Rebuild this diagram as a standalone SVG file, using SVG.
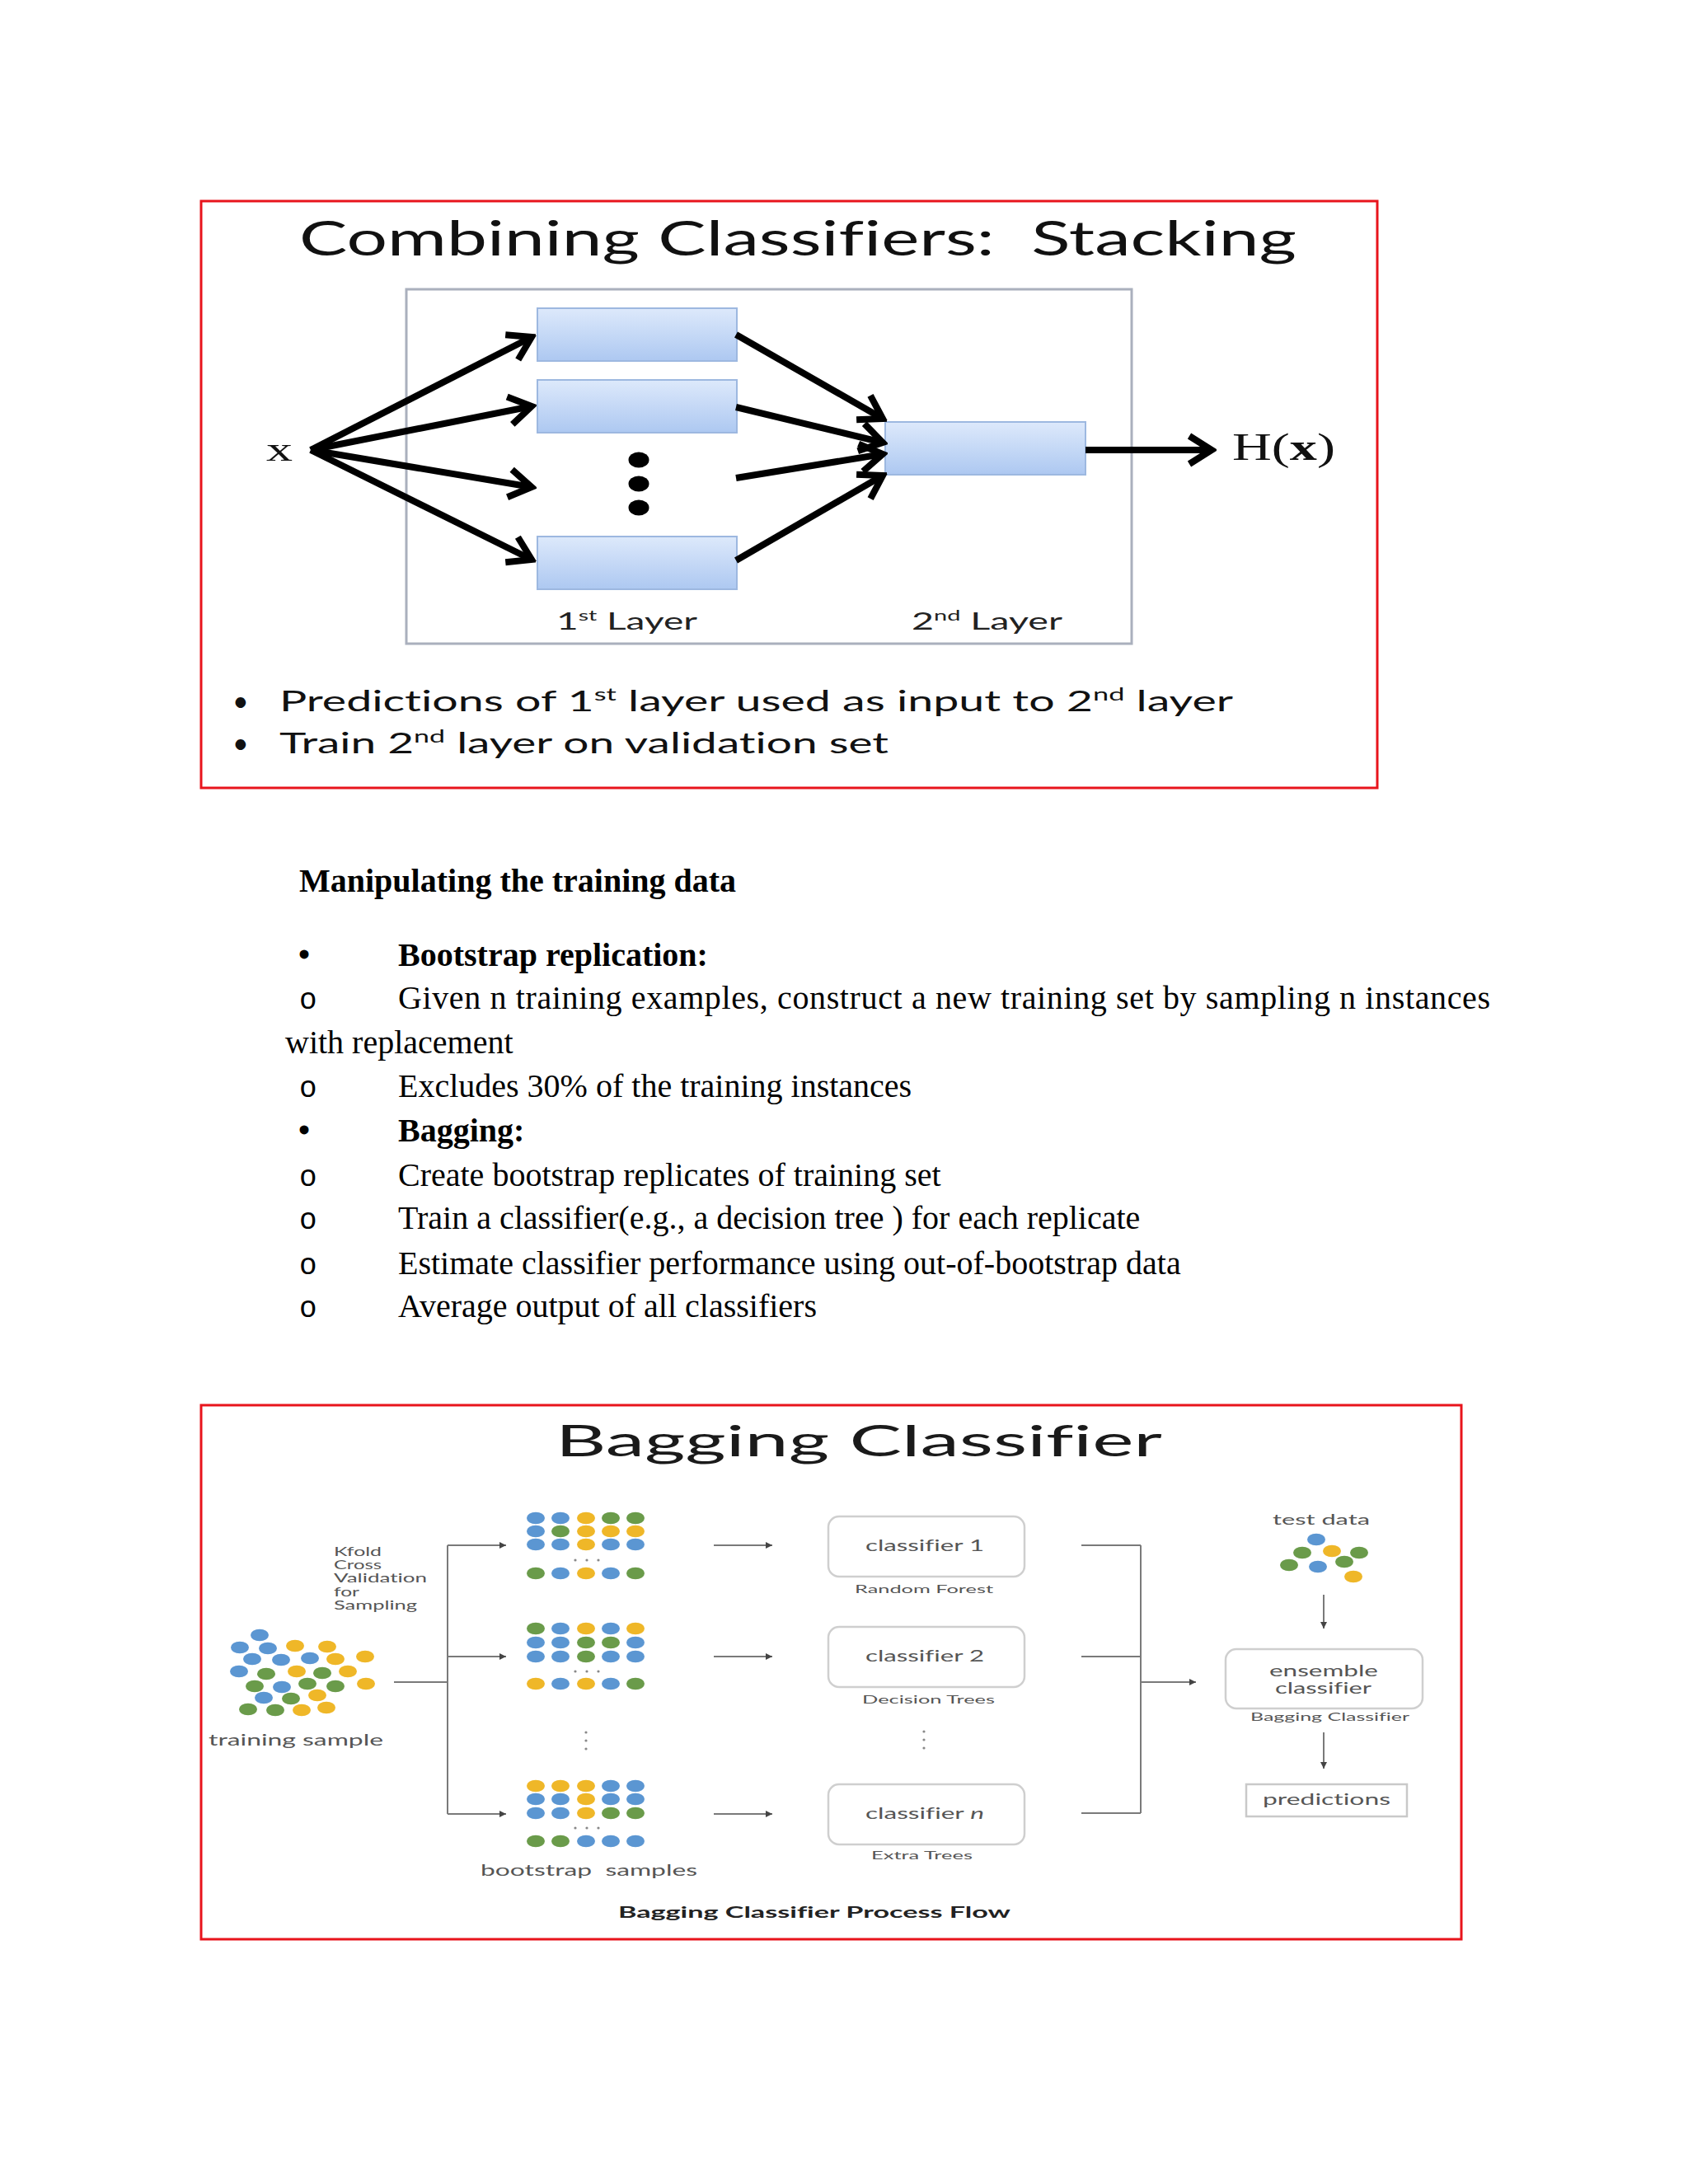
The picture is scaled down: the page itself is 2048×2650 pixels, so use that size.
<svg xmlns="http://www.w3.org/2000/svg" width="2048" height="2650" viewBox="0 0 2048 2650">
<defs>
<style>
text{font-variant-ligatures:none}
.frame{fill:none;stroke:#e8141c;stroke-width:3}
.sans{font-family:Lato,"Liberation Sans",sans-serif}
.serif{font-family:"Liberation Serif","Times New Roman",serif}
.mono{font-family:"Liberation Mono",monospace}
.st-line{fill:none;stroke:#000;stroke-width:8}
.l1{fill:url(#boxGrad);stroke:#9db8e0;stroke-width:2}
.bg-line{fill:none;stroke:#7a7a7a;stroke-width:2}
.bg-box{fill:#fff;stroke:#cfcfcf;stroke-width:2.5}
.g{fill:#555}
.db{fill:#5b96d2}.dy{fill:#efb728}.dg{fill:#6a9b4a}
.tiny{fill:#888}
.body{font-size:40px;fill:#000}
</style>
<linearGradient id="boxGrad" x1="0" y1="0" x2="0" y2="1">
<stop offset="0" stop-color="#dde9fb"/>
<stop offset="1" stop-color="#adc8f1"/>
</linearGradient>
<marker id="open" viewBox="-34 -22 40 44" refX="0" refY="0" markerWidth="40" markerHeight="44" markerUnits="userSpaceOnUse" orient="auto">
<path d="M-27,-17 L0,0 L-27,17" fill="none" stroke="#000" stroke-width="8"/>
</marker>
<marker id="tri" viewBox="0 0 10 10" refX="10" refY="5" markerWidth="9" markerHeight="8" markerUnits="userSpaceOnUse" orient="auto">
<path d="M0,0 L10,5 L0,10 Z" fill="#444"/>
</marker>
<ellipse id="dot" cx="0" cy="0" rx="11" ry="7.3"/>
</defs>
<rect width="2048" height="2650" fill="#fff"/>

<!-- ================= STACKING ================= -->
<g id="stacking">
<rect class="frame" x="244" y="244" width="1427" height="712"/>
<text class="sans" x="363" y="310" font-size="59" fill="#111" textLength="1210" lengthAdjust="spacingAndGlyphs" xml:space="preserve">Combining Classifiers:  Stacking</text>
<rect id="layer-frame" x="493" y="351" width="880" height="430" fill="none" stroke="#aab0bd" stroke-width="3"/>

<g id="input-x"><text class="serif" x="323" y="559" font-size="40" fill="#111" textLength="32" lengthAdjust="spacingAndGlyphs">x</text></g>
<g id="l1-box1"><rect class="l1" x="652" y="374" width="242" height="64"/></g>
<g id="l1-box2"><rect class="l1" x="652" y="461" width="242" height="64"/></g>
<g id="l1-dots"><ellipse cx="775" cy="558" rx="12.5" ry="9.5" fill="#000"/><ellipse cx="775" cy="587" rx="12.5" ry="9.5" fill="#000"/><ellipse cx="775" cy="616" rx="12.5" ry="9.5" fill="#000"/></g>
<g id="l1-box4"><rect class="l1" x="652" y="651" width="242" height="64"/></g>
<g id="l2-box"><rect class="l1" x="1074" y="512" width="243" height="64"/></g>
<g id="output-hx"><text class="serif" x="1495" y="558" font-size="46" fill="#111" textLength="125" lengthAdjust="spacingAndGlyphs">H(<tspan font-weight="bold">x</tspan>)</text></g>

<g id="stacking-connectors">
<line class="st-line" x1="377" y1="546" x2="645" y2="409" marker-end="url(#open)"/>
<line class="st-line" x1="377" y1="546" x2="645" y2="493" marker-end="url(#open)"/>
<line class="st-line" x1="377" y1="546" x2="645" y2="591" marker-end="url(#open)"/>
<line class="st-line" x1="377" y1="546" x2="645" y2="679" marker-end="url(#open)"/>
<line class="st-line" x1="893" y1="406" x2="1071" y2="508" marker-end="url(#open)"/>
<line class="st-line" x1="893" y1="494" x2="1071" y2="537" marker-end="url(#open)"/>
<line class="st-line" x1="893" y1="580" x2="1071" y2="551" marker-end="url(#open)"/>
<line class="st-line" x1="893" y1="680" x2="1071" y2="577" marker-end="url(#open)"/>
<line class="st-line" x1="1317" y1="546" x2="1470" y2="546" marker-end="url(#open)"/>
</g>

<text class="sans" x="675" y="764" font-size="29" fill="#222" textLength="171" lengthAdjust="spacingAndGlyphs">1<tspan font-size="18" dy="-11">st</tspan><tspan dy="11"> Layer</tspan></text>
<text class="sans" x="1106" y="764" font-size="29" fill="#222" textLength="183" lengthAdjust="spacingAndGlyphs">2<tspan font-size="18" dy="-11">nd</tspan><tspan dy="11"> Layer</tspan></text>

<text class="sans" x="282" y="863" font-size="34" fill="#111">•</text>
<text class="sans" x="339" y="863" font-size="34" fill="#111" textLength="1157" lengthAdjust="spacingAndGlyphs">Predictions of 1<tspan font-size="21" dy="-13">st</tspan><tspan dy="13"> layer used as input to 2</tspan><tspan font-size="21" dy="-13">nd</tspan><tspan dy="13"> layer</tspan></text>
<text class="sans" x="282" y="914" font-size="34" fill="#111">•</text>
<text class="sans" x="339" y="914" font-size="34" fill="#111" textLength="739" lengthAdjust="spacingAndGlyphs">Train 2<tspan font-size="21" dy="-13">nd</tspan><tspan dy="13"> layer on validation set</tspan></text>
</g>

<!-- ================= TEXT SECTION ================= -->
<g id="text-section" class="serif body">
<text x="363" y="1082" font-weight="bold">Manipulating the training data</text>
<text x="362" y="1172" font-weight="bold">•</text>
<text x="483" y="1172" font-weight="bold">Bootstrap replication:</text>
<text class="mono" x="363" y="1224" font-size="36">o</text>
<text x="483" y="1224" textLength="1325" lengthAdjust="spacing">Given n training examples, construct a new training set by sampling n instances</text>
<text x="346" y="1278">with replacement</text>
<text class="mono" x="363" y="1331" font-size="36">o</text>
<text x="483" y="1331">Excludes 30% of the training instances</text>
<text x="362" y="1385" font-weight="bold">•</text>
<text x="483" y="1385" font-weight="bold">Bagging:</text>
<text class="mono" x="363" y="1439" font-size="36">o</text>
<text x="483" y="1439">Create bootstrap replicates of training set</text>
<text class="mono" x="363" y="1491" font-size="36">o</text>
<text x="483" y="1491">Train a classifier(e.g., a decision tree ) for each replicate</text>
<text class="mono" x="363" y="1546" font-size="36">o</text>
<text x="483" y="1546">Estimate classifier performance using out-of-bootstrap data</text>
<text class="mono" x="363" y="1598" font-size="36">o</text>
<text x="483" y="1598">Average output of all classifiers</text>
</g>

<!-- ================= BAGGING ================= -->
<g id="bagging">
<rect class="frame" x="244" y="1705" width="1529" height="648"/>
<text class="sans" x="674" y="1767" font-size="53" fill="#1a1a1a" textLength="736" lengthAdjust="spacingAndGlyphs">Bagging Classifier</text>

<g id="kfold-label" class="sans g" font-size="15">
<text x="405" y="1888" textLength="58" lengthAdjust="spacingAndGlyphs">Kfold</text>
<text x="405" y="1904" textLength="58" lengthAdjust="spacingAndGlyphs">Cross</text>
<text x="405" y="1920" textLength="113" lengthAdjust="spacingAndGlyphs">Validation</text>
<text x="405" y="1937" textLength="31" lengthAdjust="spacingAndGlyphs">for</text>
<text x="405" y="1953" textLength="101" lengthAdjust="spacingAndGlyphs">Sampling</text>
</g>

<g id="training-sample">
<use href="#dot" x="315" y="1984" class="db"/>
<use href="#dot" x="291" y="1999" class="db"/><use href="#dot" x="325" y="2000" class="db"/><use href="#dot" x="358" y="1997" class="dy"/><use href="#dot" x="397" y="1998" class="dy"/>
<use href="#dot" x="306" y="2013" class="db"/><use href="#dot" x="341" y="2014" class="db"/><use href="#dot" x="376" y="2012" class="db"/><use href="#dot" x="407" y="2013" class="dy"/><use href="#dot" x="443" y="2010" class="dy"/>
<use href="#dot" x="290" y="2028" class="db"/><use href="#dot" x="323" y="2031" class="dg"/><use href="#dot" x="360" y="2028" class="dy"/><use href="#dot" x="391" y="2030" class="dg"/><use href="#dot" x="422" y="2028" class="dy"/>
<use href="#dot" x="309" y="2046" class="dg"/><use href="#dot" x="342" y="2047" class="db"/><use href="#dot" x="373" y="2043" class="dg"/><use href="#dot" x="407" y="2046" class="dg"/><use href="#dot" x="444" y="2043" class="dy"/>
<use href="#dot" x="320" y="2060" class="db"/><use href="#dot" x="353" y="2061" class="dg"/><use href="#dot" x="385" y="2057" class="dy"/>
<use href="#dot" x="301" y="2074" class="dg"/><use href="#dot" x="334" y="2075" class="dg"/><use href="#dot" x="366" y="2075" class="dy"/><use href="#dot" x="396" y="2072" class="dy"/>
<text class="sans g" x="253" y="2118" font-size="19" textLength="212" lengthAdjust="spacingAndGlyphs">training sample</text>
</g>

<g id="bootstrap-1">
<use href="#dot" x="650" y="1842" class="db"/><use href="#dot" x="680" y="1842" class="db"/><use href="#dot" x="711" y="1842" class="dy"/><use href="#dot" x="741" y="1842" class="dg"/><use href="#dot" x="771" y="1842" class="dg"/>
<use href="#dot" x="650" y="1858" class="db"/><use href="#dot" x="680" y="1858" class="dg"/><use href="#dot" x="711" y="1858" class="dy"/><use href="#dot" x="741" y="1858" class="dy"/><use href="#dot" x="771" y="1858" class="dy"/>
<use href="#dot" x="650" y="1874" class="db"/><use href="#dot" x="680" y="1874" class="db"/><use href="#dot" x="711" y="1874" class="dy"/><use href="#dot" x="741" y="1874" class="db"/><use href="#dot" x="771" y="1874" class="db"/>
<circle cx="698" cy="1893" r="1.6" class="tiny"/><circle cx="712" cy="1893" r="1.6" class="tiny"/><circle cx="726" cy="1893" r="1.6" class="tiny"/>
<use href="#dot" x="650" y="1909" class="dg"/><use href="#dot" x="680" y="1909" class="db"/><use href="#dot" x="711" y="1909" class="dy"/><use href="#dot" x="741" y="1909" class="db"/><use href="#dot" x="771" y="1909" class="dg"/>
</g>
<g id="bootstrap-2">
<use href="#dot" x="650" y="1976" class="dg"/><use href="#dot" x="680" y="1976" class="db"/><use href="#dot" x="711" y="1976" class="dy"/><use href="#dot" x="741" y="1976" class="db"/><use href="#dot" x="771" y="1976" class="dy"/>
<use href="#dot" x="650" y="1993" class="db"/><use href="#dot" x="680" y="1993" class="db"/><use href="#dot" x="711" y="1993" class="dg"/><use href="#dot" x="741" y="1993" class="dg"/><use href="#dot" x="771" y="1993" class="db"/>
<use href="#dot" x="650" y="2010" class="db"/><use href="#dot" x="680" y="2010" class="db"/><use href="#dot" x="711" y="2010" class="dg"/><use href="#dot" x="741" y="2010" class="db"/><use href="#dot" x="771" y="2010" class="db"/>
<circle cx="698" cy="2028" r="1.6" class="tiny"/><circle cx="712" cy="2028" r="1.6" class="tiny"/><circle cx="726" cy="2028" r="1.6" class="tiny"/>
<use href="#dot" x="650" y="2043" class="dy"/><use href="#dot" x="680" y="2043" class="db"/><use href="#dot" x="711" y="2043" class="dy"/><use href="#dot" x="741" y="2043" class="db"/><use href="#dot" x="771" y="2043" class="dg"/>
</g>
<g id="bootstrap-vdots"><circle cx="711" cy="2102" r="1.6" class="tiny"/><circle cx="711" cy="2112" r="1.6" class="tiny"/><circle cx="711" cy="2122" r="1.6" class="tiny"/></g>
<g id="bootstrap-n">
<use href="#dot" x="650" y="2167" class="dy"/><use href="#dot" x="680" y="2167" class="dy"/><use href="#dot" x="711" y="2167" class="dy"/><use href="#dot" x="741" y="2167" class="db"/><use href="#dot" x="771" y="2167" class="db"/>
<use href="#dot" x="650" y="2183" class="db"/><use href="#dot" x="680" y="2183" class="db"/><use href="#dot" x="711" y="2183" class="dy"/><use href="#dot" x="741" y="2183" class="db"/><use href="#dot" x="771" y="2183" class="db"/>
<use href="#dot" x="650" y="2200" class="db"/><use href="#dot" x="680" y="2200" class="db"/><use href="#dot" x="711" y="2200" class="dy"/><use href="#dot" x="741" y="2200" class="dg"/><use href="#dot" x="771" y="2200" class="dg"/>
<circle cx="698" cy="2218" r="1.6" class="tiny"/><circle cx="712" cy="2218" r="1.6" class="tiny"/><circle cx="726" cy="2218" r="1.6" class="tiny"/>
<use href="#dot" x="650" y="2234" class="dg"/><use href="#dot" x="680" y="2234" class="dg"/><use href="#dot" x="711" y="2234" class="db"/><use href="#dot" x="741" y="2234" class="db"/><use href="#dot" x="771" y="2234" class="db"/>
</g>
<text class="sans g" x="583" y="2276" font-size="19" textLength="263" lengthAdjust="spacingAndGlyphs">bootstrap&#160; samples</text>

<g id="classifier-1"><rect class="bg-box" x="1005" y="1840" width="238" height="73" rx="13"/>
<text class="sans g" x="1050" y="1882" font-size="19" textLength="144" lengthAdjust="spacingAndGlyphs">classifier 1</text>
<text class="sans g" x="1037" y="1933" font-size="13" textLength="168" lengthAdjust="spacingAndGlyphs">Random Forest</text></g>
<g id="classifier-2"><rect class="bg-box" x="1005" y="1974" width="238" height="73" rx="13"/>
<text class="sans g" x="1050" y="2016" font-size="19" textLength="144" lengthAdjust="spacingAndGlyphs">classifier 2</text>
<text class="sans g" x="1046" y="2067" font-size="13" textLength="161" lengthAdjust="spacingAndGlyphs">Decision Trees</text></g>
<g id="classifier-vdots"><circle cx="1121" cy="2101" r="1.6" class="tiny"/><circle cx="1121" cy="2111" r="1.6" class="tiny"/><circle cx="1121" cy="2121" r="1.6" class="tiny"/></g>
<g id="classifier-n"><rect class="bg-box" x="1005" y="2165" width="238" height="73" rx="13"/>
<text class="sans g" x="1050" y="2207" font-size="19" textLength="144" lengthAdjust="spacingAndGlyphs">classifier <tspan font-style="italic">n</tspan></text>
<text class="sans g" x="1057" y="2256" font-size="13" textLength="123" lengthAdjust="spacingAndGlyphs">Extra Trees</text></g>

<g id="test-data">
<text class="sans g" x="1544" y="1850" font-size="18" textLength="118" lengthAdjust="spacingAndGlyphs">test data</text>
<use href="#dot" x="1597" y="1868" class="db"/>
<use href="#dot" x="1580" y="1884" class="dg"/><use href="#dot" x="1616" y="1882" class="dy"/><use href="#dot" x="1649" y="1884" class="dg"/>
<use href="#dot" x="1564" y="1899" class="dg"/><use href="#dot" x="1599" y="1901" class="db"/><use href="#dot" x="1631" y="1895" class="dg"/>
<use href="#dot" x="1642" y="1913" class="dy"/>
</g>
<g id="ensemble"><rect class="bg-box" x="1487" y="2001" width="239" height="72" rx="13"/>
<text class="sans g" x="1540" y="2034" font-size="19" textLength="132" lengthAdjust="spacingAndGlyphs">ensemble</text>
<text class="sans g" x="1547" y="2055" font-size="19" textLength="117" lengthAdjust="spacingAndGlyphs">classifier</text>
<text class="sans g" x="1517" y="2088" font-size="13" textLength="193" lengthAdjust="spacingAndGlyphs">Bagging Classifier</text></g>
<g id="predictions"><rect x="1512" y="2165" width="195" height="39" fill="#fff" stroke="#c9c9c9" stroke-width="2.5"/>
<text class="sans g" x="1532" y="2190" font-size="19" textLength="155" lengthAdjust="spacingAndGlyphs">predictions</text></g>

<g id="bagging-connectors">
<path class="bg-line" d="M478,2041 H543 M543,1875 V2201"/>
<line class="bg-line" x1="543" y1="1875" x2="614" y2="1875" marker-end="url(#tri)"/>
<line class="bg-line" x1="543" y1="2010" x2="614" y2="2010" marker-end="url(#tri)"/>
<line class="bg-line" x1="543" y1="2201" x2="614" y2="2201" marker-end="url(#tri)"/>
<line class="bg-line" x1="866" y1="1875" x2="937" y2="1875" marker-end="url(#tri)"/>
<line class="bg-line" x1="866" y1="2010" x2="937" y2="2010" marker-end="url(#tri)"/>
<line class="bg-line" x1="866" y1="2201" x2="937" y2="2201" marker-end="url(#tri)"/>
<path class="bg-line" d="M1312,1875 H1384 M1312,2010 H1384 M1312,2200 H1384 M1384,1875 V2200"/>
<line class="bg-line" x1="1384" y1="2041" x2="1451" y2="2041" marker-end="url(#tri)"/>
<line class="bg-line" x1="1606" y1="1935" x2="1606" y2="1976" marker-end="url(#tri)"/>
<line class="bg-line" x1="1606" y1="2102" x2="1606" y2="2146" marker-end="url(#tri)"/>
</g>

<text class="sans" x="750" y="2327" font-size="19" font-weight="bold" fill="#222" textLength="476" lengthAdjust="spacingAndGlyphs">Bagging Classifier Process Flow</text>
</g>
</svg>
